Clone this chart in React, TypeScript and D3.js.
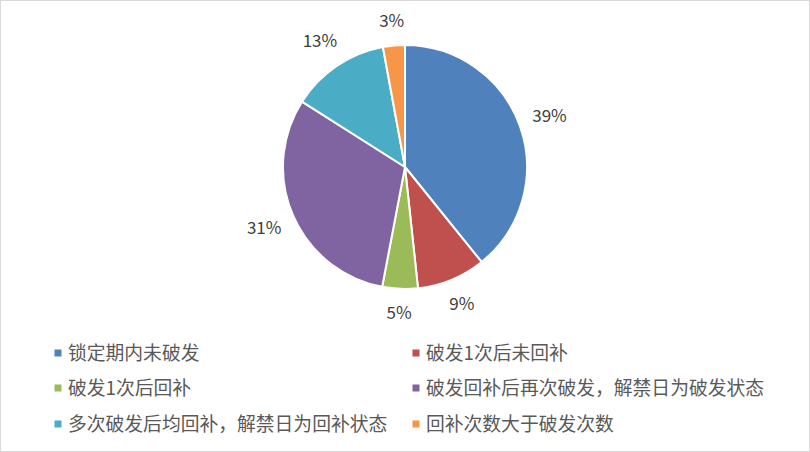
import * as React from 'react';
import * as d3 from 'd3';

const categories = [
    '锁定期内未破发',
    '破发1次后未回补',
    '破发1次后回补',
    '破发回补后再次破发，解禁日为破发状态',
    '多次破发后均回补，解禁日为回补状态',
    '回补次数大于破发次数',
];
const shares = [39.2, 9.1, 4.7, 31.0, 13.1, 2.9];
const colors = ['#4F81BD', '#C0504D', '#9BBB59', '#8064A2', '#4BACC6', '#F79646'];

const width = 810;
const height = 452;
const cx = 405;
const cy = 167;
const radius = 122;
const font = '"Noto Sans CJK SC", "Noto Sans", sans-serif';

interface Slice {
    name: string;
    value: number;
    color: string;
}

export default function App() {
    const data: Slice[] = categories.map((name, i) => ({ name: name, value: shares[i], color: colors[i] }));
    const total = d3.sum(shares);

    const pie = d3.pie<Slice>().sort(null).value(d => d.value);
    const arcs = pie(data);
    const arc = d3.arc<d3.PieArcDatum<Slice>>().innerRadius(0).outerRadius(radius);

    // label box sits just outside the rim, pushed out by its own half size
    const labelPos = (a: d3.PieArcDatum<Slice>, text: string) => {
        const mid = (a.startAngle + a.endAngle) / 2;
        const s = Math.sin(mid);
        const c = Math.cos(mid);
        const w = text.length * 9.5;
        const h = 17;
        const k = Math.abs(s) * w / 2 + Math.abs(c) * h / 2;
        const r = radius + 15 + k;
        return [cx + r * s, cy - r * c];
    };

    const legendCols = [58, 416];
    const legendRows = [353, 388, 424];

    return (
        <div style={{ position: 'absolute', left: 0, top: 0 }}>
            <svg width={width} height={height} style={{ display: 'block' }}>
                <rect x={0.5} y={0.5} width={width - 1} height={height - 1} fill="#fff" stroke="#d9d9d9" />
                <g transform={'translate(' + cx + ',' + cy + ')'}>
                    {arcs.map((a, i) => (
                        <path key={i} d={arc(a) || ''} fill={a.data.color} stroke="#fff" strokeWidth={2} strokeLinejoin="round" />
                    ))}
                </g>
                {arcs.map((a, i) => {
                    const text = Math.round(a.data.value / total * 100) + '%';
                    const p = labelPos(a, text);
                    return (
                        <text key={i} x={p[0]} y={p[1]} dy="0.35em" textAnchor="middle"
                            fontFamily={font} fontSize={17} fill="#404040">{text}</text>
                    );
                })}
                {data.map((d, i) => {
                    const x = legendCols[i % 2];
                    const y = legendRows[Math.floor(i / 2)];
                    return (
                        <g key={i}>
                            <rect x={x - 3.5} y={y - 3.5} width={7} height={7} fill={d.color} />
                            <text x={x + 10} y={y} dy="0.36em" fontFamily={font} fontSize={18.8} fill="#595959">{d.name}</text>
                        </g>
                    );
                })}
            </svg>
        </div>
    );
}
